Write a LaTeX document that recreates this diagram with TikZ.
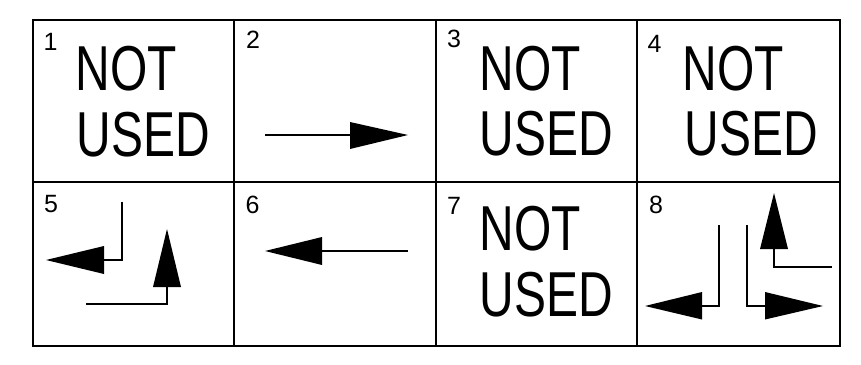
\documentclass[tikz,border=0pt]{standalone}
\usepackage{fontspec}
\setmainfont{Liberation Sans}
\begin{document}
\begin{tikzpicture}[x=1pt,y=-1pt,
  gridline/.style={line width=2pt,line cap=rect},
  shaft/.style={line width=1.4pt},
  headfill/.style={fill=black},
  num/.style={anchor=base west,inner sep=0pt,font=\fontsize{25}{25}\selectfont},
  big/.style={anchor=base west,inner sep=0pt,font=\fontsize{63.5}{63.5}\selectfont}]
\useasboundingbox (0,0) rectangle (861,364);
% grid
\draw[gridline] (33,19.5) rectangle (839.5,346);
\draw[gridline] (33,182) -- (839.5,182);
\foreach \x in {234,436,637} \draw[gridline] (\x,19.5) -- (\x,346);
% cell numbers
\node[num] (d1) at (43.5,50) {1};
\node[num] (d2) at (246,48.5) {2};
\node[num] (d3) at (447,47.5) {3};
\node[num] (d4) at (647.5,52) {4};
\node[num] (d5) at (44,212.5) {5};
\node[num] (d6) at (245.5,213) {6};
\node[num] (d7) at (447,214) {7};
\node[num] (d8) at (649,213) {8};
% NOT USED texts
\node[big] (t1a) at (75.4,90) {\scalebox{0.755}[1]{NOT}};
\node[big] (t1b) at (76.4,156) {\scalebox{0.755}[1]{USED}};
\node[big] (t3a) at (479.4,90.5) {\scalebox{0.755}[1]{NOT}};
\node[big] (t3b) at (479.4,155.5) {\scalebox{0.755}[1]{USED}};
\node[big] (t4a) at (682.4,90.5) {\scalebox{0.755}[1]{NOT}};
\node[big] (t4b) at (684.4,155.5) {\scalebox{0.755}[1]{USED}};
\node[big] (t7a) at (479.4,250.5) {\scalebox{0.755}[1]{NOT}};
\node[big] (t7b) at (479.4,316) {\scalebox{0.755}[1]{USED}};
% cell 2: right arrow
\draw[shaft] (265,135) -- (351,135);
\fill[headfill] (350,122) -- (408,135) -- (350,149) -- cycle;
% cell 5
\draw[shaft] (122,202) -- (122,260) -- (103,260);
\fill[headfill] (104,246) -- (46,260) -- (104,274) -- cycle;
\draw[shaft] (86,304) -- (167,304) -- (167,286);
\fill[headfill] (153,287) -- (167,229) -- (181,287) -- cycle;
% cell 6: left arrow
\draw[shaft] (408,251) -- (321,251);
\fill[headfill] (322,237) -- (265,251) -- (322,265) -- cycle;
% cell 8
\draw[shaft] (719,225) -- (719,306) -- (701,306);
\fill[headfill] (702,292) -- (645,306) -- (702,319.5) -- cycle;
\draw[shaft] (747,225) -- (747,306) -- (766,306);
\fill[headfill] (765,292) -- (823,306) -- (765,319.5) -- cycle;
\draw[shaft] (832,267) -- (774,267) -- (774,248);
\fill[headfill] (760,249) -- (774,193) -- (788,249) -- cycle;
\end{tikzpicture}
\end{document}
